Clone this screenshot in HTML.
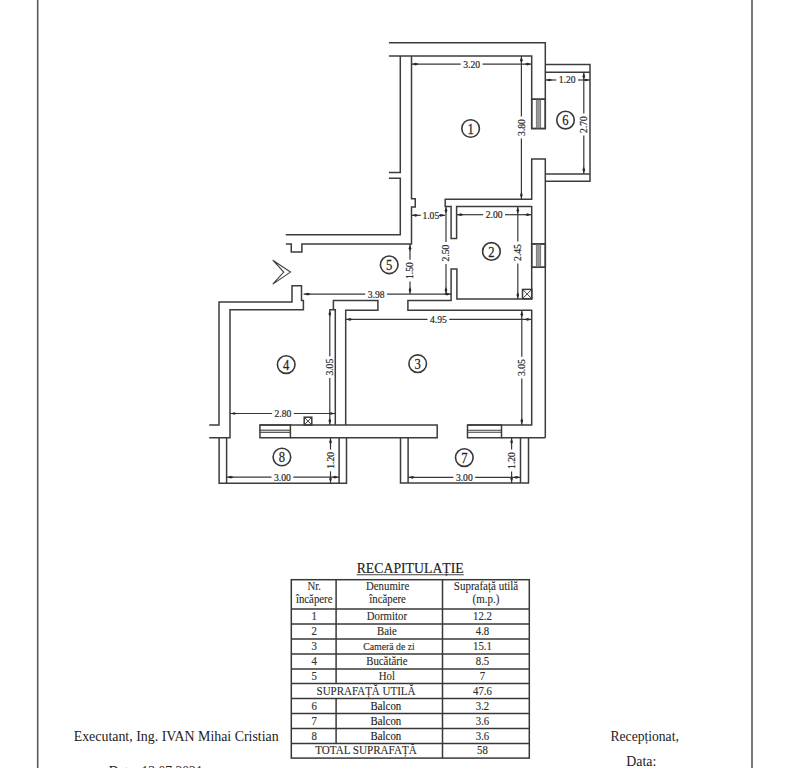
<!DOCTYPE html>
<html><head><meta charset="utf-8"><style>
html,body{margin:0;padding:0;background:#fff;width:790px;height:768px;overflow:hidden}
svg{display:block}
text{font-family:"Liberation Serif",serif;fill:#222} .tb text{fill:#2a2a2a;stroke:#2a2a2a;stroke-width:0.1px} .tb text.lt{fill:#333;stroke:#333;stroke-width:0.15px} .tb text.dk{fill:#1a1a1a;stroke:#1a1a1a;stroke-width:0.12px} .ti{stroke:#222;stroke-width:0.15px} .bt{fill:#333}
</style></head><body>
<svg width="790" height="768" viewBox="0 0 790 768">
<defs><filter id="bl" x="-5%" y="-5%" width="110%" height="110%"><feGaussianBlur stdDeviation="0.5"/></filter></defs><rect width="790" height="768" fill="#fff"/><g>
<line x1="37.7" y1="0" x2="37.7" y2="768" stroke="#5a5a5a" stroke-width="1.6"/>
<line x1="752" y1="0" x2="752" y2="768" stroke="#5a5a5a" stroke-width="1.6"/>
<g fill="none" stroke="#3c3c3c" stroke-width="1.5" stroke-linecap="butt" stroke-linejoin="miter">
<path d="M388.9,42.7 L545.3,42.7 L545.3,99.2"/><path d="M388.9,56 L531.7,56 L531.7,99.2"/><path d="M545.3,437.7 L545.3,159.1 L531.7,159.1 L531.7,199.2 L445.2,199.2 L445.2,206.4 L451.1,206.4 L451.1,238.4 L456.6,238.4 L456.6,206.4 L531.7,206.4 L531.7,243.9"/><path d="M531.7,267.3 L531.7,299.1 L456.9,299.1 L456.9,268.9 L451.1,268.9 L451.1,300.6 L407.9,300.6 L407.9,310.2 L531.7,310.2 L531.7,425 L467.5,425"/><path d="M545.3,64.6 L590,64.6 L590,181.25 L545.3,181.25"/><path d="M545.3,72.2 L590,72.2"/><path d="M545.3,173.9 L590,173.9"/><path d="M400.3,56 L400.3,172.6 L388.9,172.6"/><path d="M388.9,178.3 L400.3,178.3 L400.3,234.8 L285.8,234.8"/><path d="M411.5,56 L411.5,198.7 L415.25,198.7 L415.25,207 L411.5,207 L411.5,244.1 L301.9,244.1 L301.9,252 L291.25,252 L291.25,244.1 L285.8,244.1"/><path d="M209.2,425.1 L219,425.1 L219,302 L292,302 L292,285.7 L301.5,285.7 L301.5,300.5 L303.4,300.5 L303.4,309.8 L230,309.8 L230,437.8 L209.2,437.8"/><path d="M335.3,425 L335.3,309.7 L329.3,309.7"/><path d="M333.4,309.7 L333.4,300.6 L377.9,300.6 L377.9,310.2 L345.7,310.2 L345.7,425"/><path d="M259.9,425 L437.2,425 L437.2,437.7 L290.4,437.7"/><path d="M545.3,437.7 L501.5,437.7"/><path d="M219.1,437.8 L219.1,483.2 L346.5,483.2 L346.5,437.7"/><path d="M226.6,437.8 L226.6,483.2"/><path d="M339.1,437.7 L339.1,483.2"/><path d="M400.5,437.7 L400.5,482.9 L528.5,482.9 L528.5,437.7"/><path d="M408.1,437.7 L408.1,482.9"/><path d="M520.5,437.7 L520.5,482.9"/>
<rect x="531.7" y="99.2" width="13.599999999999909" height="29.39999999999999" fill="#fff"/><rect x="536.4" y="99.2" width="4.2" height="29.39999999999999" fill="#9c9c9c" stroke="none"/><path d="M531.7,99.2 L545.3,99.2 L545.3,128.6 L531.7,128.6 Z"/><line x1="536.4" y1="99.2" x2="536.4" y2="128.6" stroke="#666" stroke-width="0.8"/><line x1="538.5" y1="99.2" x2="538.5" y2="128.6" stroke="#888" stroke-width="0.6"/><line x1="540.6" y1="99.2" x2="540.6" y2="128.6" stroke="#666" stroke-width="0.8"/><rect x="531.7" y="243.9" width="13.599999999999909" height="23.400000000000006" fill="#fff"/><rect x="536.4" y="243.9" width="4.2" height="23.400000000000006" fill="#9c9c9c" stroke="none"/><path d="M531.7,243.9 L545.3,243.9 L545.3,267.3 L531.7,267.3 Z"/><line x1="536.4" y1="243.9" x2="536.4" y2="267.3" stroke="#666" stroke-width="0.8"/><line x1="538.5" y1="243.9" x2="538.5" y2="267.3" stroke="#888" stroke-width="0.6"/><line x1="540.6" y1="243.9" x2="540.6" y2="267.3" stroke="#666" stroke-width="0.8"/><path d="M259.9,425 L290.4,425 L290.4,437.7 L259.9,437.7 Z"/><line x1="259.9" y1="430.2" x2="290.4" y2="430.2" stroke="#3c3c3c" stroke-width="1.1"/><line x1="259.9" y1="432.3" x2="290.4" y2="432.3" stroke="#3c3c3c" stroke-width="1.1"/><path d="M467.5,425 L501.5,425 L501.5,437.7 L467.5,437.7 Z"/><line x1="467.5" y1="430.2" x2="501.5" y2="430.2" stroke="#3c3c3c" stroke-width="1.1"/><line x1="467.5" y1="432.3" x2="501.5" y2="432.3" stroke="#3c3c3c" stroke-width="1.1"/><rect x="522.5" y="289.4" width="9.299999999999955" height="9.300000000000011"/><path d="M522.5,289.4 L531.8,298.7 M531.8,289.4 L522.5,298.7" stroke-width="1.0"/><rect x="304.2" y="417.2" width="7.600000000000023" height="7.800000000000011"/><path d="M304.2,417.2 L311.8,425 M311.8,417.2 L304.2,425" stroke-width="1.0"/><path d="M272.8,260.2 L290.5,272.1 L272.8,284.1 L283.75,272.1 Z" stroke-width="1.1" stroke-linejoin="miter"/></g>
<g fill="none" stroke="#383838" stroke-width="1.2"><line x1="411.5" y1="64.1" x2="460.70000000000005" y2="64.1"/><line x1="482.5" y1="64.1" x2="531.7" y2="64.1"/><path d="M412.10,64.10 L415.68,62.75 L418.60,64.10 L415.68,65.45 Z" fill="#2a2a2a" stroke="none"/><path d="M531.10,64.10 L527.52,65.45 L524.60,64.10 L527.52,62.75 Z" fill="#2a2a2a" stroke="none"/><line x1="521.4" y1="56" x2="521.4" y2="116.6"/><line x1="521.4" y1="138.4" x2="521.4" y2="199.2"/><path d="M521.40,56.60 L522.75,60.18 L521.40,63.10 L520.05,60.18 Z" fill="#2a2a2a" stroke="none"/><path d="M521.40,198.60 L520.05,195.03 L521.40,192.10 L522.75,195.03 Z" fill="#2a2a2a" stroke="none"/><line x1="545.3" y1="80" x2="556.2" y2="80"/><line x1="578.0" y1="80" x2="590" y2="80"/><path d="M545.90,80.00 L549.48,78.65 L552.40,80.00 L549.48,81.35 Z" fill="#2a2a2a" stroke="none"/><path d="M589.40,80.00 L585.82,81.35 L582.90,80.00 L585.82,78.65 Z" fill="#2a2a2a" stroke="none"/><line x1="583.8" y1="72.2" x2="583.8" y2="113.6"/><line x1="583.8" y1="135.4" x2="583.8" y2="173.9"/><path d="M583.80,72.80 L585.15,76.38 L583.80,79.30 L582.45,76.38 Z" fill="#2a2a2a" stroke="none"/><path d="M583.80,173.30 L582.45,169.73 L583.80,166.80 L585.15,169.73 Z" fill="#2a2a2a" stroke="none"/><line x1="411.5" y1="215.3" x2="420.8" y2="215.3"/><line x1="440.8" y1="215.3" x2="445.2" y2="215.3"/><path d="M412.10,215.30 L415.68,213.95 L418.60,215.30 L415.68,216.65 Z" fill="#2a2a2a" stroke="none"/><path d="M444.60,215.30 L441.02,216.65 L438.10,215.30 L441.02,213.95 Z" fill="#2a2a2a" stroke="none"/><line x1="456.6" y1="214.7" x2="483.20000000000005" y2="214.7"/><line x1="505.0" y1="214.7" x2="531.7" y2="214.7"/><path d="M457.20,214.70 L460.78,213.35 L463.70,214.70 L460.78,216.05 Z" fill="#2a2a2a" stroke="none"/><path d="M531.10,214.70 L527.52,216.05 L524.60,214.70 L527.52,213.35 Z" fill="#2a2a2a" stroke="none"/><line x1="446" y1="206.4" x2="446" y2="242.1"/><line x1="446" y1="263.9" x2="446" y2="294.1"/><path d="M446.00,207.00 L447.35,210.57 L446.00,213.50 L444.65,210.57 Z" fill="#2a2a2a" stroke="none"/><path d="M446.00,293.50 L444.65,289.93 L446.00,287.00 L447.35,289.93 Z" fill="#2a2a2a" stroke="none"/><line x1="517.8" y1="206.4" x2="517.8" y2="241.6"/><line x1="517.8" y1="263.4" x2="517.8" y2="299.1"/><path d="M517.80,207.00 L519.15,210.57 L517.80,213.50 L516.45,210.57 Z" fill="#2a2a2a" stroke="none"/><path d="M517.80,298.50 L516.45,294.93 L517.80,292.00 L519.15,294.93 Z" fill="#2a2a2a" stroke="none"/><line x1="410" y1="244.1" x2="410" y2="259.70000000000005"/><line x1="410" y1="281.5" x2="410" y2="294.1"/><path d="M410.00,244.70 L411.35,248.27 L410.00,251.20 L408.65,248.27 Z" fill="#2a2a2a" stroke="none"/><path d="M410.00,293.50 L408.65,289.93 L410.00,287.00 L411.35,289.93 Z" fill="#2a2a2a" stroke="none"/><line x1="303.6" y1="294.1" x2="365.20000000000005" y2="294.1"/><line x1="387.0" y1="294.1" x2="451.1" y2="294.1"/><path d="M304.20,294.10 L307.78,292.75 L310.70,294.10 L307.78,295.45 Z" fill="#2a2a2a" stroke="none"/><path d="M450.50,294.10 L446.93,295.45 L444.00,294.10 L446.93,292.75 Z" fill="#2a2a2a" stroke="none"/><line x1="345.7" y1="319.4" x2="427.5" y2="319.4"/><line x1="449.29999999999995" y1="319.4" x2="531.7" y2="319.4"/><path d="M346.30,319.40 L349.88,318.05 L352.80,319.40 L349.88,320.75 Z" fill="#2a2a2a" stroke="none"/><path d="M531.10,319.40 L527.52,320.75 L524.60,319.40 L527.52,318.05 Z" fill="#2a2a2a" stroke="none"/><line x1="329.8" y1="309.7" x2="329.8" y2="356.3"/><line x1="329.8" y1="378.09999999999997" x2="329.8" y2="425"/><path d="M329.80,310.30 L331.15,313.88 L329.80,316.80 L328.45,313.88 Z" fill="#2a2a2a" stroke="none"/><path d="M329.80,424.40 L328.45,420.82 L329.80,417.90 L331.15,420.82 Z" fill="#2a2a2a" stroke="none"/><line x1="521.8" y1="310.2" x2="521.8" y2="356.70000000000005"/><line x1="521.8" y1="378.5" x2="521.8" y2="425"/><path d="M521.80,310.80 L523.15,314.38 L521.80,317.30 L520.45,314.38 Z" fill="#2a2a2a" stroke="none"/><path d="M521.80,424.40 L520.45,420.82 L521.80,417.90 L523.15,420.82 Z" fill="#2a2a2a" stroke="none"/><line x1="230" y1="413.5" x2="272.0" y2="413.5"/><line x1="293.79999999999995" y1="413.5" x2="335.3" y2="413.5"/><path d="M230.60,413.50 L234.17,412.15 L237.10,413.50 L234.17,414.85 Z" fill="#2a2a2a" stroke="none"/><path d="M334.70,413.50 L331.12,414.85 L328.20,413.50 L331.12,412.15 Z" fill="#2a2a2a" stroke="none"/><line x1="330.5" y1="437.7" x2="330.5" y2="449.5"/><line x1="330.5" y1="471.29999999999995" x2="330.5" y2="483.2"/><path d="M330.50,438.30 L331.85,441.88 L330.50,444.80 L329.15,441.88 Z" fill="#2a2a2a" stroke="none"/><path d="M330.50,482.60 L329.15,479.02 L330.50,476.10 L331.85,479.02 Z" fill="#2a2a2a" stroke="none"/><line x1="226.6" y1="477.2" x2="271.5" y2="477.2"/><line x1="293.29999999999995" y1="477.2" x2="339.1" y2="477.2"/><path d="M227.20,477.20 L230.77,475.85 L233.70,477.20 L230.77,478.55 Z" fill="#2a2a2a" stroke="none"/><path d="M338.50,477.20 L334.93,478.55 L332.00,477.20 L334.93,475.85 Z" fill="#2a2a2a" stroke="none"/><line x1="511.6" y1="437.7" x2="511.6" y2="449.6"/><line x1="511.6" y1="471.4" x2="511.6" y2="482.9"/><path d="M511.60,438.30 L512.95,441.88 L511.60,444.80 L510.25,441.88 Z" fill="#2a2a2a" stroke="none"/><path d="M511.60,482.30 L510.25,478.72 L511.60,475.80 L512.95,478.72 Z" fill="#2a2a2a" stroke="none"/><line x1="408.1" y1="477.3" x2="453.40000000000003" y2="477.3"/><line x1="475.2" y1="477.3" x2="520.5" y2="477.3"/><path d="M408.70,477.30 L412.28,475.95 L415.20,477.30 L412.28,478.65 Z" fill="#2a2a2a" stroke="none"/><path d="M519.90,477.30 L516.32,478.65 L513.40,477.30 L516.32,475.95 Z" fill="#2a2a2a" stroke="none"/></g>
<g text-anchor="middle" style="fill:#3a3a3a;stroke:#3a3a3a;stroke-width:0.2px"><text x="471.6" y="67.5" font-size="9.6">3.20</text><text transform="translate(524.8,127.5) rotate(-90)" x="0" y="0" font-size="9.6">3.80</text><text x="567.1" y="83.4" font-size="9.6">1.20</text><text transform="translate(587.1999999999999,124.5) rotate(-90)" x="0" y="0" font-size="9.6">2.70</text><text x="430.8" y="218.70000000000002" font-size="9.6">1.05</text><text x="494.1" y="218.1" font-size="9.6">2.00</text><text transform="translate(449.4,253) rotate(-90)" x="0" y="0" font-size="9.6">2.50</text><text transform="translate(521.1999999999999,252.5) rotate(-90)" x="0" y="0" font-size="9.6">2.45</text><text transform="translate(413.4,270.6) rotate(-90)" x="0" y="0" font-size="9.6">1.50</text><text x="376.1" y="297.5" font-size="9.6">3.98</text><text x="438.4" y="322.79999999999995" font-size="9.6">4.95</text><text transform="translate(333.2,367.2) rotate(-90)" x="0" y="0" font-size="9.6">3.05</text><text transform="translate(525.1999999999999,367.6) rotate(-90)" x="0" y="0" font-size="9.6">3.05</text><text x="282.9" y="416.9" font-size="9.6">2.80</text><text transform="translate(333.9,460.4) rotate(-90)" x="0" y="0" font-size="9.6">1.20</text><text x="282.4" y="480.59999999999997" font-size="9.6">3.00</text><text transform="translate(515.0,460.5) rotate(-90)" x="0" y="0" font-size="9.6">1.20</text><text x="464.3" y="480.7" font-size="9.6">3.00</text></g>
<g fill="none" stroke="#383838" stroke-width="1.6"><circle cx="470.6" cy="128.5" r="8.8"/><circle cx="565.5" cy="120.1" r="8.8"/><circle cx="491.4" cy="251.4" r="8.8"/><circle cx="389.2" cy="264.8" r="8.8"/><circle cx="286.2" cy="364.6" r="8.8"/><circle cx="417.7" cy="363.7" r="8.8"/><circle cx="281.9" cy="457" r="8.8"/><circle cx="464.3" cy="457.6" r="8.8"/></g>
<g text-anchor="middle" style="fill:#2a2a2a;stroke:#2a2a2a;stroke-width:0.25px"><text transform="translate(470.6,133.7) scale(0.82,1)" font-size="15.4">1</text><text transform="translate(565.5,125.3) scale(0.82,1)" font-size="15.4">6</text><text transform="translate(491.4,256.6) scale(0.82,1)" font-size="15.4">2</text><text transform="translate(389.2,270.0) scale(0.82,1)" font-size="15.4">5</text><text transform="translate(286.2,369.8) scale(0.82,1)" font-size="15.4">4</text><text transform="translate(417.7,368.9) scale(0.82,1)" font-size="15.4">3</text><text transform="translate(281.9,462.2) scale(0.82,1)" font-size="15.4">8</text><text transform="translate(464.3,462.8) scale(0.82,1)" font-size="15.4">7</text></g>
<g fill="none" stroke="#383838" stroke-width="1.5"><rect x="291.3" y="579.7" width="237.99999999999994" height="178.39999999999998"/><line x1="291.3" y1="608.9" x2="529.3" y2="608.9"/><line x1="291.3" y1="624.1" x2="529.3" y2="624.1"/><line x1="291.3" y1="639.1" x2="529.3" y2="639.1"/><line x1="291.3" y1="654.0" x2="529.3" y2="654.0"/><line x1="291.3" y1="668.9" x2="529.3" y2="668.9"/><line x1="291.3" y1="683.6" x2="529.3" y2="683.6"/><line x1="291.3" y1="698.5" x2="529.3" y2="698.5"/><line x1="291.3" y1="713.6" x2="529.3" y2="713.6"/><line x1="291.3" y1="728.6" x2="529.3" y2="728.6"/><line x1="291.3" y1="743.4" x2="529.3" y2="743.4"/><line x1="442.5" y1="579.7" x2="442.5" y2="758.1"/><line x1="336.1" y1="579.7" x2="336.1" y2="608.9"/><line x1="336.1" y1="608.9" x2="336.1" y2="624.1"/><line x1="336.1" y1="624.1" x2="336.1" y2="639.1"/><line x1="336.1" y1="639.1" x2="336.1" y2="654.0"/><line x1="336.1" y1="654.0" x2="336.1" y2="668.9"/><line x1="336.1" y1="668.9" x2="336.1" y2="683.6"/><line x1="336.1" y1="698.5" x2="336.1" y2="713.6"/><line x1="336.1" y1="713.6" x2="336.1" y2="728.6"/><line x1="336.1" y1="728.6" x2="336.1" y2="743.4"/></g>
<g class="tb" text-anchor="middle"><text transform="translate(314.2,590.4) scale(1,1.1)" font-size="10.8">Nr.</text><text transform="translate(314.2,602.6) scale(1,1.1)" font-size="10.8">încăpere</text><text transform="translate(387.6,590.4) scale(1,1.1)" font-size="10.8">Denumire</text><text transform="translate(387.6,602.6) scale(1,1.1)" font-size="10.8">încăpere</text><text transform="translate(486.0,589.8) scale(1,1.1)" font-size="11">Suprafață utilă</text><text transform="translate(486.0,602.6) scale(1,1.1)" font-size="11">(m.p.)</text><text transform="translate(314.2,620.0) scale(1,1.1)" font-size="10.8" class="lt">1</text><text transform="translate(386.9,620.0) scale(1,1.1)" font-size="10.8">Dormitor</text><text transform="translate(482.5,620.0) scale(1,1.1)" font-size="10.8">12.2</text><text transform="translate(314.2,635.2) scale(1,1.1)" font-size="10.8" class="lt">2</text><text transform="translate(386.9,635.2) scale(1,1.1)" font-size="10.8">Baie</text><text transform="translate(482.5,635.2) scale(1,1.1)" font-size="10.8">4.8</text><text transform="translate(314.2,650.2) scale(1,1.1)" font-size="10.8" class="lt">3</text><text transform="translate(389.0,650.2) scale(1,1.1)" font-size="9.8">Camerä de zi</text><text transform="translate(482.5,650.2) scale(1,1.1)" font-size="10.8">15.1</text><text transform="translate(314.2,665.1) scale(1,1.1)" font-size="10.8" class="lt">4</text><text transform="translate(386.9,665.1) scale(1,1.1)" font-size="10.8">Bucătărie</text><text transform="translate(482.5,665.1) scale(1,1.1)" font-size="10.8">8.5</text><text transform="translate(314.2,680.0) scale(1,1.1)" font-size="10.8" class="lt">5</text><text transform="translate(386.9,680.0) scale(1,1.1)" font-size="10.8">Hol</text><text transform="translate(482.5,680.0) scale(1,1.1)" font-size="10.8">7</text><text transform="translate(366.0,694.6) scale(1,1.1)" font-size="11">SUPRAFAȚĂ UTILĂ</text><text transform="translate(482.5,694.6) scale(1,1.1)" font-size="10.8">47.6</text><text transform="translate(314.2,709.6) scale(1,1.1)" font-size="10.8" class="lt">6</text><text transform="translate(385.9,709.6) scale(1,1.1)" font-size="10.8" class="dk">Balcon</text><text transform="translate(482.5,709.6) scale(1,1.1)" font-size="10.8">3.2</text><text transform="translate(314.2,724.7) scale(1,1.1)" font-size="10.8" class="lt">7</text><text transform="translate(385.9,724.7) scale(1,1.1)" font-size="10.8" class="dk">Balcon</text><text transform="translate(482.5,724.7) scale(1,1.1)" font-size="10.8">3.6</text><text transform="translate(314.2,739.7) scale(1,1.1)" font-size="10.8" class="lt">8</text><text transform="translate(385.9,739.7) scale(1,1.1)" font-size="10.8" class="dk">Balcon</text><text transform="translate(482.5,739.7) scale(1,1.1)" font-size="10.8">3.6</text><text transform="translate(366.0,754.4) scale(1,1.1)" font-size="11.1">TOTAL SUPRAFAȚĂ</text><text transform="translate(482.5,754.4) scale(1,1.1)" font-size="10.8">58</text></g>
<text class="ti" transform="translate(410.2,573) scale(1,1.05)" font-size="13.8" text-anchor="middle">RECAPITULAȚIE</text><g class="bt">
<line x1="356.6" y1="574.7" x2="463.8" y2="574.7" stroke="#444" stroke-width="1.1"/>
<text x="73.7" y="741" font-size="13.9">Executant, Ing. IVAN Mihai Cristian</text>
<text x="108.7" y="776" font-size="13.6">Data: 13.07.2021</text>
<text x="610.5" y="741.3" font-size="13.6">Recepționat,</text>
<text transform="translate(626.3,765.6) scale(1,1.1)" font-size="13.9">Data:</text></g></g>
</svg>
</body></html>
